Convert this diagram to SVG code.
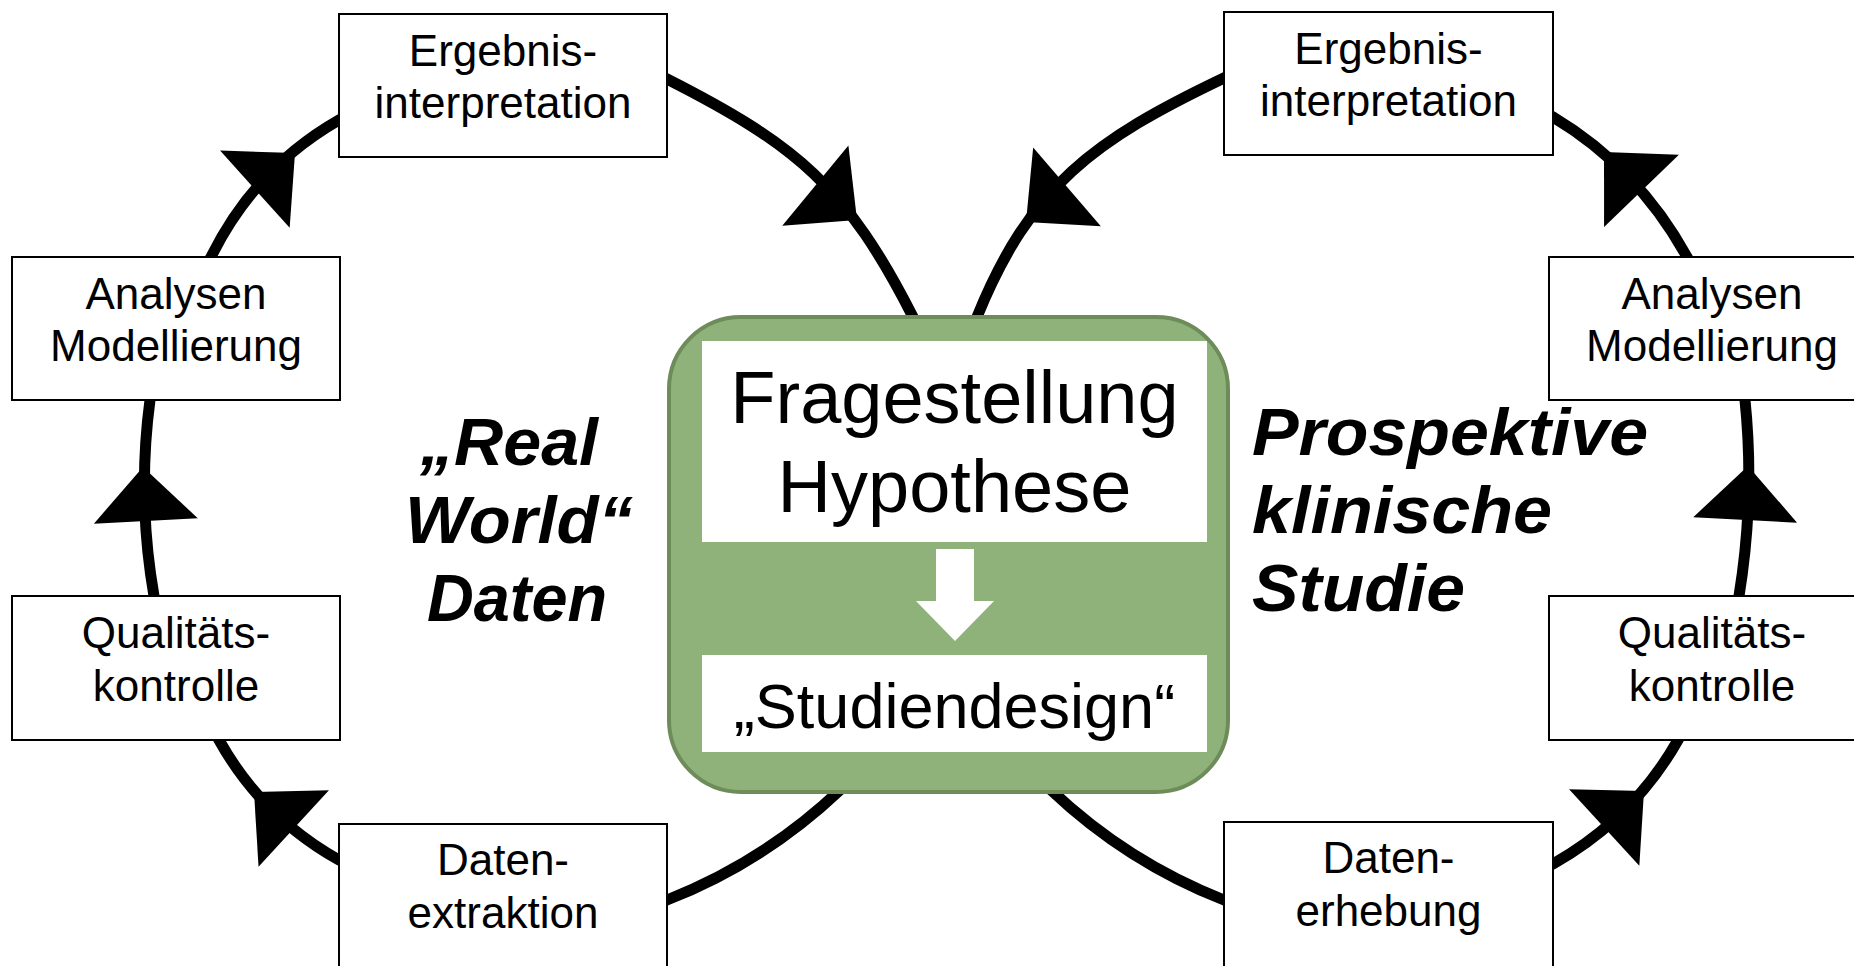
<svg xmlns="http://www.w3.org/2000/svg" xmlns:xlink="http://www.w3.org/1999/xlink" width="1854" height="966" viewBox="0 0 1854 966">
<style>
.box{fill:#fff;stroke:#000;stroke-width:2}
.lbl{font-family:"Liberation Sans",Arial,sans-serif;font-size:44px;text-anchor:middle;fill:#000}
.arc{fill:none;stroke:#000;stroke-width:11}
.big{font-family:"Liberation Sans",Arial,sans-serif;text-anchor:middle;fill:#000}
.bi{font-family:"Liberation Sans",Arial,sans-serif;font-weight:bold;font-style:italic;font-size:66px;fill:#000}
</style>
<defs>
<path id="ah" d="M0,0 L-54,-52 L-54,52 Z" fill="#000"/>
</defs>
<rect width="1854" height="966" fill="#fff"/>
<g id="connectors">
<path class="arc" d="M345,863 L339,860 Q262,817 219,740 L215,733"/>
<path class="arc" d="M155,604 L154,596 Q137,498 150,400 L151,392"/>
<path class="arc" d="M207,264 L211,257 Q254.7,168.2 339,120 L346,116"/>
<path class="arc" d="M661,76 L667,79 C797,145 847,187 913,317 L920,331"/>
<path class="arc" d="M848,782 L840,790 Q764,862 667,900 L660,903"/>
<path class="arc" d="M1547,867 L1553,864 Q1634,818 1678,740 L1682,733"/>
<path class="arc" d="M1738,604 L1739,596 Q1755,498 1745,400 L1744,392"/>
<path class="arc" d="M1691,264 L1687,257 Q1638,168 1553,117 L1546,113"/>
<path class="arc" d="M1230,75 L1224,78 C1094,140 1030,186 977,317 L972,331"/>
<path class="arc" d="M1043,782 L1051,790 Q1127,862 1224,900 L1231,903"/>
<use xlink:href="#ah" transform="translate(254,792) rotate(-137.4)"/>
<use xlink:href="#ah" transform="translate(143,467) rotate(-93)"/>
<use xlink:href="#ah" transform="translate(295,153) rotate(-42)"/>
<use xlink:href="#ah" transform="translate(857,220) rotate(39.5)"/>
<use xlink:href="#ah" transform="translate(1644,791) rotate(-42.5)"/>
<use xlink:href="#ah" transform="translate(1748,466) rotate(-87)"/>
<use xlink:href="#ah" transform="translate(1604,152) rotate(-134)"/>
<use xlink:href="#ah" transform="translate(1026,222) rotate(139.4)"/>
</g>
<g id="l-ergebnis">
<rect class="box" x="339" y="14" width="328" height="143"/>
<text class="lbl" x="503" y="66">Ergebnis-</text>
<text class="lbl" x="503" y="118">interpretation</text>
</g>
<g id="l-analysen">
<rect class="box" x="12" y="257" width="328" height="143"/>
<text class="lbl" x="176" y="309">Analysen</text>
<text class="lbl" x="176" y="361">Modellierung</text>
</g>
<g id="l-qualitaet">
<rect class="box" x="12" y="596" width="328" height="144"/>
<text class="lbl" x="176" y="648">Qualitäts-</text>
<text class="lbl" x="176" y="701">kontrolle</text>
</g>
<g id="l-daten">
<rect class="box" x="339" y="824" width="328" height="150"/>
<text class="lbl" x="503" y="875">Daten-</text>
<text class="lbl" x="503" y="928">extraktion</text>
</g>
<g id="r-ergebnis">
<rect class="box" x="1224" y="12" width="329" height="143"/>
<text class="lbl" x="1388.5" y="64">Ergebnis-</text>
<text class="lbl" x="1388.5" y="116">interpretation</text>
</g>
<g id="r-analysen">
<rect class="box" x="1549" y="257" width="328" height="143"/>
<text class="lbl" x="1712" y="309">Analysen</text>
<text class="lbl" x="1712" y="361">Modellierung</text>
</g>
<g id="r-qualitaet">
<rect class="box" x="1549" y="596" width="328" height="144"/>
<text class="lbl" x="1712" y="648">Qualitäts-</text>
<text class="lbl" x="1712" y="701">kontrolle</text>
</g>
<g id="r-daten">
<rect class="box" x="1224" y="822" width="329" height="150"/>
<text class="lbl" x="1388.5" y="873">Daten-</text>
<text class="lbl" x="1388.5" y="926">erhebung</text>
</g>
<g id="center">
<rect x="669" y="317" width="559" height="475" rx="72" ry="72" fill="#8FB27B" stroke="#6D8C5A" stroke-width="4"/>
<rect x="702" y="341" width="505" height="201" fill="#fff"/>
<rect x="702" y="655" width="505" height="97" fill="#fff"/>
<path d="M936,549 H974 V601 H994 L955,641 L916,601 H936 Z" fill="#fff"/>
<text class="big" x="954.5" y="423" font-size="74">Fragestellung</text>
<text class="big" x="954.5" y="512" font-size="74">Hypothese</text>
<text class="big" x="954.5" y="728" font-size="63">„Studiendesign“</text>
</g>
<g id="label-rwd">
<text class="bi" x="509" y="465" text-anchor="middle" textLength="178" lengthAdjust="spacingAndGlyphs">„Real</text>
<text class="bi" x="519" y="543" text-anchor="middle" textLength="228" lengthAdjust="spacingAndGlyphs">World“</text>
<text class="bi" x="517" y="621" text-anchor="middle" textLength="180" lengthAdjust="spacingAndGlyphs">Daten</text>
</g>
<g id="label-pks">
<text class="bi" x="1252" y="455" textLength="396" lengthAdjust="spacingAndGlyphs">Prospektive</text>
<text class="bi" x="1252" y="533" textLength="300" lengthAdjust="spacingAndGlyphs">klinische</text>
<text class="bi" x="1252" y="611" textLength="213" lengthAdjust="spacingAndGlyphs">Studie</text>
</g>
</svg>
